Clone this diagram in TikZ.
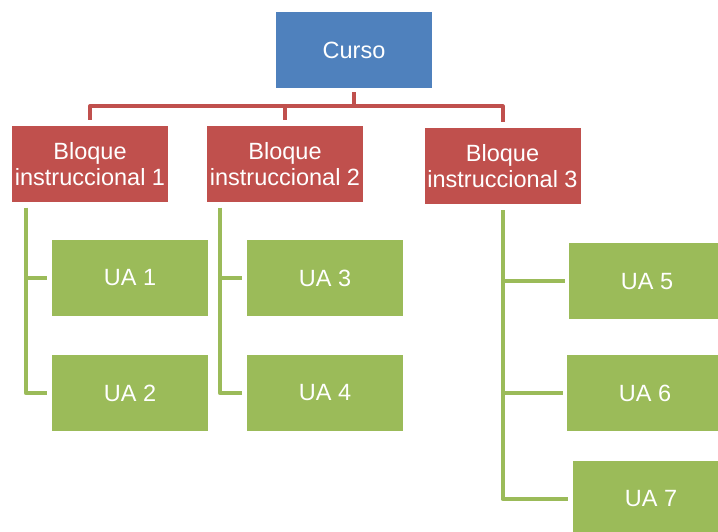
\documentclass[tikz,border=0pt]{standalone}
\usepackage{fontspec}
\setmainfont{Liberation Sans}
\definecolor{azul}{HTML}{4F81BD}
\definecolor{rojo}{HTML}{C0504D}
\definecolor{verde}{HTML}{9BBB59}
\begin{document}
\begin{tikzpicture}[x=1pt, y=1pt, line join=round,
		caja/.style={minimum width=156pt, minimum height=76pt, inner sep=2pt, text=white, align=center, font=\fontsize{23.5}{26}\selectfont},
		bloque/.style={caja, fill=rojo},
		unidad/.style={caja, fill=verde},
		linrojo/.style={draw=rojo, line width=4pt},
		linverde/.style={draw=verde, line width=4pt}]
			\useasboundingbox (0,0) rectangle (718,532);
			\clip (0,0) rectangle (718,532);
			\node[caja, fill=azul] (curso) at (354,482) {Curso};
			\node[bloque] (b1) at (90,367.5) {Bloque\\instruccional 1};
			\node[bloque] (b2) at (285,367.5) {Bloque\\instruccional 2};
			\node[bloque] (b3) at (502.5,366) {Bloque\\instruccional 3};
			\node[unidad] (ua1) at (130,254) {UA 1};
			\node[unidad] (ua2) at (130,139) {UA 2};
			\node[unidad] (ua3) at (325,254) {UA 3};
			\node[unidad] (ua4) at (325,139) {UA 4};
			\node[unidad] (ua5) at (647,250.5) {UA 5};
			\node[unidad] (ua6) at (645,139) {UA 6};
			\node[unidad] (ua7) at (651,33) {UA 7};
			% curso -> bloques
			\foreach \b in {b1,b2,b3}
			\draw[linrojo] ([yshift=-4pt]curso.south) -- ++(0,-14) -| ([yshift=6pt]\b.north);
			% bloques -> unidades
			\coordinate (s1) at ([shift={(14pt,-5pt)}]b1.south west);
			\coordinate (s2) at ([shift={(13pt,-5pt)}]b2.south west);
			\coordinate (s3) at ([shift={(0pt,-6pt)}]b3.south);
			\draw[linverde] (s1) |- ([xshift=-5pt]ua2.west);
			\draw[linverde] (s1 |- ua1.west) -- ([xshift=-5pt]ua1.west);
			\draw[linverde] (s2) |- ([xshift=-5pt]ua4.west);
			\draw[linverde] (s2 |- ua3.west) -- ([xshift=-5pt]ua3.west);
			\draw[linverde] (s3) |- ([xshift=-5pt]ua7.west);
			\foreach \u in {ua5,ua6}
			\draw[linverde] (s3 |- \u.west) -- ([xshift=-4pt]\u.west);
		\end{tikzpicture}
\end{document}
